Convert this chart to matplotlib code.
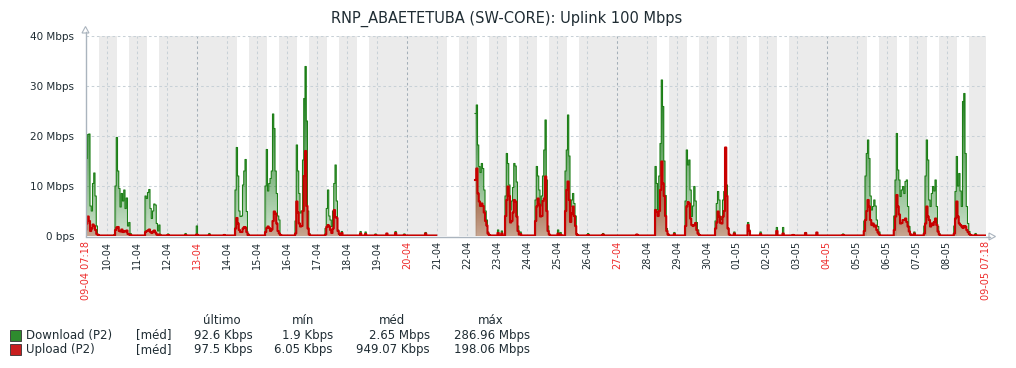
import numpy as np
import pandas as pd
import matplotlib
matplotlib.use("Agg")
import matplotlib.pyplot as plt
import matplotlib.dates as mdates
from matplotlib.path import Path
from matplotlib.patches import Polygon, Rectangle
from matplotlib.lines import Line2D

W, H = 1016, 368

title = "RNP_ABAETETUBA (SW-CORE): Uplink 100 Mbps"
start = pd.Timestamp("2025-04-09 07:18")
end = pd.Timestamp("2025-05-09 07:18")

# quiet-hour level (Mbps) and the hole with no data
base_dl = 0.1
base_ul = 0.1
gap_from, gap_to = "2025-04-21 00:00", "2025-04-22 06:00"

# busy days: first hour, hourly download (Mbps), hourly upload (Mbps)
busy = {
    "2025-04-09": (7, [10.5, 15.5, 20.3, 20.4, 6, 5, 10.5, 12.6, 8, 2, 0.3],
                      [1.2, 2.5, 3.9, 3.0, 1.0, 1.5, 2.3, 2.0, 1.2, 0.4, 0.2]),
    "2025-04-10": (6, [0.3, 10, 19.7, 13, 9.5, 5.8, 8.5, 7, 9.2, 5.5, 7.6, 2, 2.7, 0.5],
                      [0.1, 1.2, 1.7, 1.8, 1.0, 0.9, 1.3, 0.8, 1.0, 0.9, 1.1, 0.4, 0.3, 0.2]),
    "2025-04-11": (7, [8.0, 7.5, 8.7, 9.3, 5.5, 3.5, 5.0, 6.4, 6.2, 2.5, 1.0, 2.2, 0.3],
                      [0.8, 1.0, 1.1, 1.3, 0.8, 0.6, 0.9, 1.1, 0.7, 0.3, 0.2, 0.3, 0.1]),
    "2025-04-14": (7, [9.2, 17.7, 12, 5, 3.9, 4, 10.2, 13, 15.3, 4.9, 0.5],
                      [1.5, 3.6, 2.5, 1.2, 0.8, 0.8, 1.5, 1.8, 1.7, 0.8, 0.2]),
    "2025-04-15": (7, [10, 17.3, 9, 10.5, 11.5, 13, 24.4, 21.5, 13, 8.5, 4, 3.2, 0.3],
                      [0.8, 1.6, 1.9, 1.6, 1.0, 1.3, 3.0, 4.9, 4.5, 2.5, 1.0, 0.5, 0.2]),
    "2025-04-16": (7, [3, 18.2, 13, 8.5, 4.6, 5, 15.2, 27.5, 33.9, 23, 5, 0.5],
                      [0.5, 6.9, 4.7, 2.5, 1.9, 2.0, 5, 12, 17, 6, 1.5, 0.3]),
    "2025-04-17": (7, [1.5, 5.5, 9.2, 4, 3.2, 1.9, 5, 10.5, 14.2, 7, 1.2, 0.4],
                      [0.3, 1.8, 2.2, 1.9, 1.2, 0.6, 1.5, 5.2, 3.8, 3.6, 1.0, 0.4]),
    "2025-04-22": (7, [24.5, 26.2, 18.2, 13.9, 12.7, 14.5, 13.5, 9.2, 5, 3.2, 0.8, 0.3],
                      [11.2, 13.5, 8.5, 6.9, 6, 6.5, 6, 4.7, 3, 2.1, 0.5, 0.2]),
    "2025-04-23": (7, [8, 16.5, 14.5, 10.2, 5.2, 7, 9.7, 14.5, 14, 10.8, 2, 0.3],
                      [4, 7.2, 9.9, 8, 2.7, 3, 4.7, 7.2, 6.9, 3.9, 1, 0.3]),
    "2025-04-24": (7, [7.2, 13.9, 12, 9.2, 6, 8, 12, 17.2, 23.2, 11.2, 2, 0.3],
                      [3, 5.9, 7.5, 6.3, 3.9, 4, 7, 7.5, 11.9, 5, 1, 0.3]),
    "2025-04-25": (7, [13, 17.2, 24.2, 16, 5.9, 7.2, 8.5, 6.5, 4, 0.5],
                      [5, 9.2, 10.9, 7.2, 2.8, 4.5, 5.9, 4, 2, 0.3]),
    "2025-04-28": (7, [13.9, 10.5, 5.2, 12, 18.5, 31.2, 25.9, 15, 8.1, 1.5, 0.4],
                      [5.2, 4.8, 4, 5, 9.2, 14.9, 10.5, 8, 4, 1, 0.3]),
    "2025-04-29": (7, [7, 17.2, 14.2, 15.2, 9.2, 3.9, 6, 9.9, 7, 2.7, 1.2, 0.3],
                      [2, 5.9, 6.8, 6.5, 3.5, 2.2, 2.0, 2.2, 2.6, 1.2, 0.5, 0.2]),
    "2025-04-30": (7, [3, 6.5, 8.9, 7.2, 3.9, 3.3, 7.2, 8.9, 13.9, 10.2, 1.5, 0.3],
                      [1.5, 2.7, 4.9, 3.9, 2.6, 2.5, 3.9, 5, 17.7, 8, 1.5, 0.3]),
    "2025-05-05": (6, [3, 12, 16.5, 19.2, 15.5, 8, 5.2, 5.9, 7.2, 6, 3.2, 1.9, 0.8],
                      [1, 3.2, 5, 7.2, 5.9, 3.2, 2.2, 2.5, 1.9, 2.1, 1.2, 0.7, 0.3]),
    "2025-05-06": (6, [4, 11.2, 20.5, 13.2, 11.2, 7.9, 9.2, 9.9, 8.5, 10.9, 11.2, 5.9, 1.9, 0.4],
                      [1.2, 3.9, 8.2, 5.9, 4.3, 2.5, 2.6, 3.2, 3.2, 3.5, 2.8, 1.9, 0.9, 0.3]),
    "2025-05-07": (6, [2, 12, 19.2, 15.2, 7.2, 5.9, 8.5, 9.9, 9, 11.2, 5.9, 1.9, 0.5],
                      [0.5, 2.5, 5.9, 3.9, 3.2, 1.9, 2.5, 2.2, 2.8, 3.5, 2.2, 0.9, 0.3]),
    "2025-05-08": (6, [2, 8.9, 15.9, 10, 12.5, 9, 5.9, 26.9, 28.5, 16.5, 5.9, 2.5, 0.9, 0.3],
                      [0.5, 3.5, 6.9, 3.9, 2.5, 2.2, 1.9, 1.6, 2, 1.9, 1.2, 0.8, 0.4, 0.2]),
}

# isolated small blips outside office hours: time, download, upload
blips = [
    ("2025-04-12 01:00", 0.4, 0.2), ("2025-04-12 15:00", 0.5, 0.2),
    ("2025-04-13 00:00", 2.0, 0.3), ("2025-04-13 10:00", 0.5, 0.2),
    ("2025-04-13 22:00", 0.3, 0.2), ("2025-04-17 20:00", 0.9, 0.6),
    ("2025-04-18 11:00", 0.9, 0.5), ("2025-04-18 15:00", 0.8, 0.4),
    ("2025-04-18 23:00", 0.4, 0.2), ("2025-04-19 08:00", 0.3, 0.5),
    ("2025-04-19 15:00", 0.9, 0.6), ("2025-04-19 22:00", 0.4, 0.2),
    ("2025-04-20 15:00", 0.7, 0.5), ("2025-04-23 01:00", 1.2, 0.6),
    ("2025-04-23 04:00", 1.0, 0.5), ("2025-04-23 19:00", 0.8, 0.4),
    ("2025-04-25 01:00", 1.2, 0.5), ("2025-04-25 03:00", 0.7, 0.3),
    ("2025-04-26 01:00", 0.5, 0.2), ("2025-04-26 13:00", 0.5, 0.3),
    ("2025-04-27 16:00", 0.3, 0.3), ("2025-04-28 22:00", 0.7, 0.4),
    ("2025-04-30 22:00", 0.8, 0.5), ("2025-05-01 09:00", 2.7, 2.2),
    ("2025-05-01 10:00", 1.2, 1.0), ("2025-05-01 19:00", 0.8, 0.4),
    ("2025-05-02 08:00", 1.7, 1.0), ("2025-05-02 13:00", 1.7, 0.5),
    ("2025-05-02 21:00", 0.3, 0.2), ("2025-05-03 07:00", 0.7, 0.6),
    ("2025-05-03 16:00", 0.3, 0.7), ("2025-05-04 13:00", 0.4, 0.2),
    ("2025-05-06 22:00", 0.8, 0.5), ("2025-05-08 23:00", 0.5, 0.2),
]

yticks = [0, 10, 20, 30, 40]
ylabels = ["0 bps", "10 Mbps", "20 Mbps", "30 Mbps", "40 Mbps"]

legend_head = ["último", "mín", "méd", "máx"]
legend_names = ["Download (P2)", "Upload (P2)"]
legend_vals = [["92.6 Kbps", "1.9 Kbps", "2.65 Mbps", "286.96 Mbps"],
               ["97.5 Kbps", "6.05 Kbps", "949.07 Kbps", "198.06 Mbps"]]

green, red = "#1c7f16", "#c80000"
sq_green, sq_red = "#2e8b2e", "#c81e1e"
txt = "#1f2c33"
axc = "#aab4be"

# ---- hourly series ----
hours = pd.date_range("2025-04-09 07:00", "2025-05-09 08:00", freq="h")
dl = pd.Series(base_dl, index=hours)
ul = pd.Series(base_ul, index=hours)
for day, (h0, d, u) in busy.items():
    idx = pd.Timestamp(day) + pd.to_timedelta(np.arange(h0, h0 + len(d)), unit="h")
    dl.loc[idx] = d
    ul.loc[idx] = u
for t, d, u in blips:
    dl.loc[pd.Timestamp(t)] = d
    ul.loc[pd.Timestamp(t)] = u
dl.loc[gap_from:gap_to] = np.nan
ul.loc[gap_from:gap_to] = np.nan

x = mdates.date2num(hours.to_pydatetime())
x0, x1 = mdates.date2num(start.to_pydatetime()), mdates.date2num(end.to_pydatetime())


def fx(px):
    return px / W


def fy(py):
    return 1 - py / H


fig = plt.figure(figsize=(W / 100, H / 100), dpi=100)
ax = fig.add_axes([fx(86), fy(236), (986 - 86) / W, 200 / H])
ax.set_facecolor("#ebebeb")

# office hours (Mon-Fri 08-18) in white
for day in pd.date_range("2025-04-09", "2025-05-09", freq="D"):
    if day.weekday() < 5:
        ax.axvspan(mdates.date2num((day + pd.Timedelta(hours=8)).to_pydatetime()),
                   mdates.date2num((day + pd.Timedelta(hours=18)).to_pydatetime()),
                   color="white", lw=0, zorder=0.5)

# grid
days = pd.date_range("2025-04-10", "2025-05-08", freq="D")
for day in days:
    c = "#a3afb8" if day.weekday() == 6 else "#c8d1d7"
    ax.axvline(mdates.date2num(day.to_pydatetime()), color=c, lw=0.75,
               ls=(0, (2.5, 2.5)), zorder=1)
for v in yticks[1:]:
    ax.axhline(v, color="#c8d1d7", lw=0.75, ls=(0, (2.5, 2.5)), zorder=1)


def gradient_fill(y, rgb, a_lo, a_hi, z):
    coll = ax.fill_between(x, 0, y, step="mid", facecolor="none", edgecolor="none")
    clip = Path.make_compound_path(*coll.get_paths())
    grad = np.zeros((256, 1, 4))
    grad[..., :3] = rgb
    grad[..., 3] = np.clip(np.linspace(a_lo, a_hi, 256), 0, 1)[:, None]
    im = ax.imshow(grad, extent=[x[0], x[-1], 0, 40], origin="lower",
                   aspect="auto", zorder=z, interpolation="bilinear")
    im.set_clip_path(clip, ax.transData)


gradient_fill(dl.values, (30 / 255, 125 / 255, 30 / 255), 0.22, 1.3, 2)
ax.plot(x, dl.values, color=green, lw=0.8, drawstyle="steps-mid", zorder=3)
gradient_fill(ul.values, (185 / 255, 20 / 255, 0), 0.3, 1.2, 4)
ax.plot(x, ul.values, color=red, lw=1.5, drawstyle="steps-mid", zorder=5)

ax.set_xlim(x0, x1)
ax.set_ylim(0, 40)
for s in ax.spines.values():
    s.set_visible(False)

ax.set_yticks(yticks, ylabels)
ax.tick_params(axis="y", length=0, pad=8.6, labelsize=7.5, labelcolor=txt)

tick_pos = [x0] + [mdates.date2num(d.to_pydatetime()) for d in days] + [x1]
tick_lab = ["09-04 07:18"] + [d.strftime("%d-%m") for d in days] + ["09-05 07:18"]
tick_red = [True] + [d.weekday() == 6 for d in days] + [True]
ax.set_xticks(tick_pos, tick_lab, rotation=90)
ax.tick_params(axis="x", length=0, pad=3.5, labelsize=7)
for lab, r in zip(ax.get_xticklabels(), tick_red):
    lab.set_color("#ee2b2b" if r else txt)

# axis lines with hollow arrows
fig.add_artist(Line2D([fx(85.5), fx(85.5)], [fy(236), fy(32)], color=axc, lw=1,
                      transform=fig.transFigure))
fig.add_artist(Line2D([fx(85.5), fx(990)], [fy(236.5), fy(236.5)], color=axc, lw=1,
                      transform=fig.transFigure))
fig.add_artist(Polygon([[fx(82), fy(33)], [fx(89), fy(33)], [fx(85.5), fy(26.5)]],
                       closed=True, fc="white", ec=axc, lw=0.8, transform=fig.transFigure))
fig.add_artist(Polygon([[fx(989), fy(233)], [fx(989), fy(240)], [fx(995.5), fy(236.5)]],
                       closed=True, fc="white", ec=axc, lw=0.8, transform=fig.transFigure))

fig.text(fx(507), fy(19), title, ha="center", va="center", fontsize=10.5, color=txt)

# legend table
head_x = [222, 303, 392, 491]
val_x = [253, 333, 430, 530]
for h, hx in zip(legend_head, head_x):
    fig.text(fx(hx), fy(321), h, ha="center", va="center", fontsize=8.5, color=txt)
for i, (name, sq) in enumerate(zip(legend_names, [sq_green, sq_red])):
    yy = 335 + 14.5 * i
    fig.add_artist(Rectangle((fx(10), fy(yy + 5.5)), 11 / W, 11 / H, fc=sq, ec="#333333",
                             lw=0.6, transform=fig.transFigure))
    fig.text(fx(26), fy(yy), name, ha="left", va="center", fontsize=8.5, color=txt)
    fig.text(fx(136), fy(yy), "[méd]", ha="left", va="center", fontsize=8.5, color=txt)
    for v, vx in zip(legend_vals[i], val_x):
        fig.text(fx(vx), fy(yy), v, ha="right", va="center", fontsize=8.5, color=txt)

fig.savefig("out.png", dpi=100)
